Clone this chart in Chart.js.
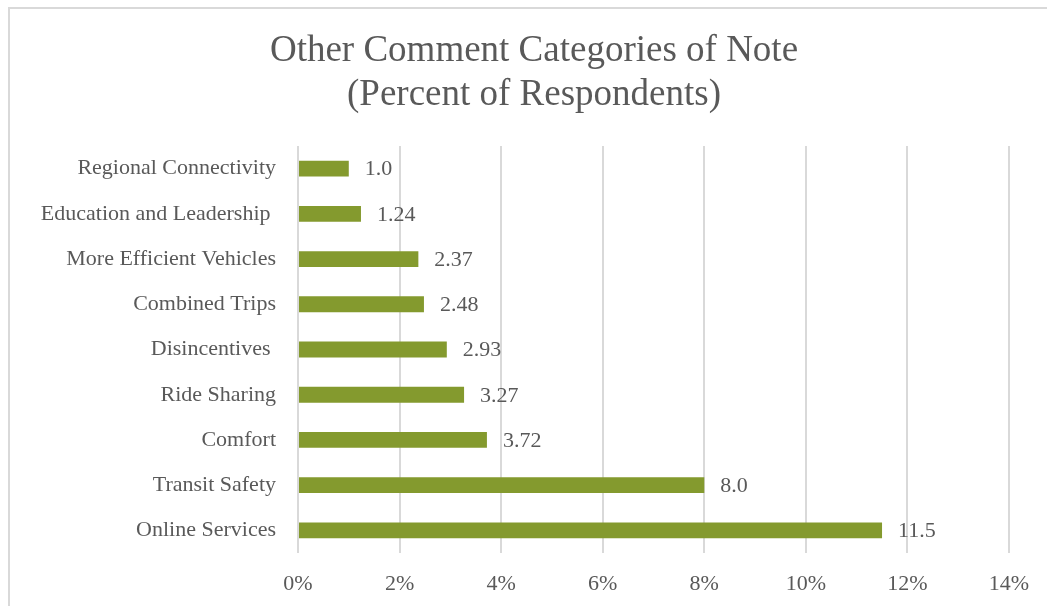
<!DOCTYPE html>
<html>
<head>
<meta charset="utf-8">
<script src="https://cdn.jsdelivr.net/npm/chart.js@4"></script>
<style>
  html, body { margin: 0; padding: 0; background: #fff; overflow: hidden; }
  #frame {
    position: absolute; left: 8px; top: 7px;
    width: 1052px; height: 620px;
    border: 2px solid #d9d9d9; box-sizing: border-box;
  }
  #wrap { position: absolute; left: 8px; top: 7px; width: 1052px; height: 620px; }
</style>
</head>
<body>
<div id="frame"></div>
<div id="wrap"><canvas id="grafikKomentar"></canvas></div>
<script>
// Kategori komentar lain (persen responden)
const kategori = [
    'Regional Connectivity',
    'Education and Leadership ',
    'More Efficient Vehicles',
    'Combined Trips',
    'Disincentives ',
    'Ride Sharing',
    'Comfort',
    'Transit Safety',
    'Online Services'
];
const persen = [1.0, 1.24, 2.37, 2.48, 2.93, 3.27, 3.72, 8.0, 11.5];
// jumlah desimal untuk label di ujung batang
const desimal = [1, 2, 2, 2, 2, 2, 2, 1, 1];
const tickPersen = [0, 2, 4, 6, 8, 10, 12, 14];
const judul = ['Other Comment Categories of Note', '(Percent of Respondents)'];

const abuTeks = '#595959';
const hijau = '#849a2e';
const fontSerif = '"Liberation Serif", "DejaVu Serif", serif';

// Judul digambar sendiri supaya tetap di tengah seluruh kanvas
const judulTengah = {
    id: 'judulTengah',
    afterDraw(chart) {
        const ctx = chart.ctx;
        ctx.save();
        ctx.font = '37px ' + fontSerif;
        ctx.fillStyle = abuTeks;
        ctx.textAlign = 'center';
        ctx.textBaseline = 'middle';
        judul.forEach((baris, i) => {
            ctx.fillText(baris, chart.width / 2, 44 + i * 44);
        });
        ctx.restore();
    }
};

// Plugin kecil untuk menulis nilai di ujung batang
const labelNilai = {
    id: 'labelNilai',
    afterDatasetsDraw(chart) {
        const ctx = chart.ctx;
        const meta = chart.getDatasetMeta(0);
        ctx.save();
        ctx.font = '22px ' + fontSerif;
        ctx.fillStyle = abuTeks;
        ctx.textAlign = 'left';
        ctx.textBaseline = 'middle';
        meta.data.forEach((bar, i) => {
            ctx.fillText(persen[i].toFixed(desimal[i]), bar.x + 16, bar.y + 1);
        });
        ctx.restore();
    }
};

const config = {
    type: 'bar',
    data: {
        labels: kategori,
        datasets: [{
            data: persen,
            backgroundColor: hijau,
            borderWidth: 0,
            barPercentage: 0.35,
            categoryPercentage: 1
        }]
    },
    options: {
        indexAxis: 'y',
        responsive: true,
        maintainAspectRatio: false,
        animation: false,
        layout: { padding: { left: 0, right: 51, top: 139, bottom: 0 } },
        plugins: {
            legend: { display: false },
            tooltip: { enabled: false },
            title: { display: false }
        },
        scales: {
            x: {
                min: 0,
                max: 14,
                afterBuildTicks(scale) {
                    scale.ticks = tickPersen.map(v => ({ value: v }));
                },
                afterFit(scale) { scale.height = 74; },
                grid: { color: '#d9d9d9', lineWidth: 2, drawTicks: false },
                border: { display: false },
                ticks: {
                    color: abuTeks,
                    padding: 18,
                    font: { family: fontSerif, size: 22 },
                    callback: v => v + '%'
                }
            },
            y: {
                afterFit(scale) { scale.width = 290; },
                grid: { display: false, drawTicks: false },
                border: { display: false },
                ticks: {
                    color: abuTeks,
                    padding: 22,
                    font: { family: fontSerif, size: 22 }
                }
            }
        }
    },
    plugins: [labelNilai, judulTengah]
};

const grafikKomentar = new Chart(document.getElementById('grafikKomentar'), config);
</script>
</body>
</html>
